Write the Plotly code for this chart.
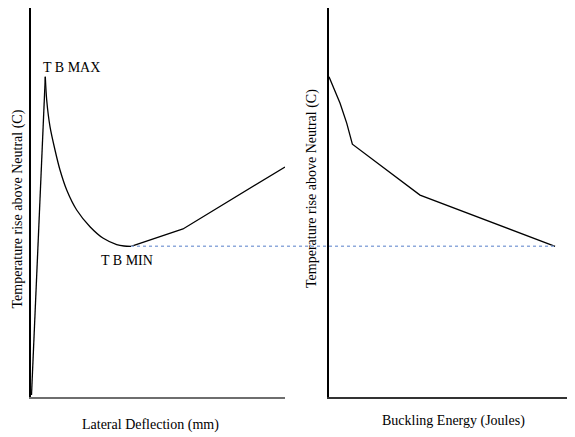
import plotly.graph_objects as go

# Left panel: temperature rise vs lateral deflection (arbitrary units 0-100)
rise_x = [0.2, 5.63]
rise_y = [0.5, 82.34]
decay_x = [5.63, 6.18, 7.48, 9.45, 11.42, 14.06, 17.99, 23.23, 28.46, 33.74, 36.61, 39.37]
decay_y = [82.34, 76.35, 69.49, 63.50, 58.35, 53.21, 48.07, 43.78, 40.80, 39.20, 38.82, 38.74]
tail_x = [39.37, 59.84, 100]
tail_y = [38.74, 43.19, 59.13]

# Right panel: temperature rise vs buckling energy
right_x = [0, 2.0, 4.5, 7.2, 9.5, 37.0, 91.9]
right_y = [82.3, 79.2, 75.5, 70.4, 65.0, 51.9, 38.74]

labels = ["T B MAX", "T B MIN"]
x_titles = ["Lateral Deflection (mm)", "Buckling Energy (Joules)"]
y_title = "Temperature rise above Neutral (C)"

# page body has an 8px margin: figure is drawn 8px in from the window corner
OFF = 8
W, H = 575 - OFF, 437 - OFF
FONT = dict(family="Liberation Serif", size=14, color="black")

def px(v):
    return (v - OFF) / W

def py(v):
    return 1 - (v - OFF) / H

lx_dom = [px(31), px(285)]
rx_dom = [px(329), 1.0]
y_dom = [py(397), 1.0]

fig = go.Figure()
line = dict(color="black", width=1.3)
fig.add_trace(go.Scatter(x=rise_x, y=rise_y, mode="lines", xaxis="x", yaxis="y",
                         line=line, showlegend=False, hoverinfo="skip"))
fig.add_trace(go.Scatter(x=decay_x, y=decay_y, mode="lines", xaxis="x", yaxis="y",
                         line=dict(line, shape="spline", smoothing=0.8),
                         showlegend=False, hoverinfo="skip"))
fig.add_trace(go.Scatter(x=tail_x, y=tail_y, mode="lines", xaxis="x", yaxis="y",
                         line=line, showlegend=False, hoverinfo="skip"))
fig.add_trace(go.Scatter(x=right_x, y=right_y, mode="lines", xaxis="x2", yaxis="y2",
                         line=line, showlegend=False, hoverinfo="skip"))

ax_common = dict(range=[0, 100], showgrid=False, zeroline=False, showticklabels=False,
                 ticks="", showline=True, linecolor="black", linewidth=1.5, fixedrange=True)

fig.update_layout(
    width=W, height=H,
    margin=dict(l=0, r=0, t=0, b=0),
    paper_bgcolor="white", plot_bgcolor="white",
    font=FONT,
    xaxis=dict(domain=lx_dom, anchor="y", **{**ax_common, "linecolor": "#6e6e6e", "linewidth": 2}),
    yaxis=dict(domain=y_dom, anchor="x", **ax_common),
    xaxis2=dict(domain=rx_dom, anchor="y2", **{**ax_common, "linecolor": "#333333", "linewidth": 1.8}),
    yaxis2=dict(domain=y_dom, anchor="x2", **ax_common),
)

# Dotted line from T B MIN level across to the end of the buckling-energy curve
px0 = lx_dom[0] + tail_x[0] / 100 * (lx_dom[1] - lx_dom[0])
px1 = rx_dom[0] + right_x[-1] / 100 * (rx_dom[1] - rx_dom[0])
fig.add_shape(type="line", xref="paper", yref="y", x0=px0, x1=px1,
              y0=tail_y[0], y1=right_y[-1],
              line=dict(color="#8EA9DB", width=1.5, dash="dot"))

fig.add_annotation(x=15.9, y=84.6, xref="x", yref="y", text=labels[0], showarrow=False,
                   xanchor="center", yanchor="middle", font=FONT)
fig.add_annotation(x=37.8, y=35.2, xref="x", yref="y", text=labels[1], showarrow=False,
                   xanchor="center", yanchor="middle", font=FONT)

fig.add_annotation(x=px(150), y=py(425), xref="paper", yref="paper", text=x_titles[0],
                   showarrow=False, xanchor="center", yanchor="middle", font=FONT)
fig.add_annotation(x=px(453.5), y=py(421), xref="paper", yref="paper", text=x_titles[1],
                   showarrow=False, xanchor="center", yanchor="middle", font=FONT)
fig.add_annotation(x=px(17.5), y=py(209), xref="paper", yref="paper", text=y_title,
                   textangle=-90, showarrow=False, xanchor="center", yanchor="middle", font=FONT)
fig.add_annotation(x=px(312), y=py(189), xref="paper", yref="paper", text=y_title,
                   textangle=-90, showarrow=False, xanchor="center", yanchor="middle", font=FONT)

fig.write_html("out.html")
